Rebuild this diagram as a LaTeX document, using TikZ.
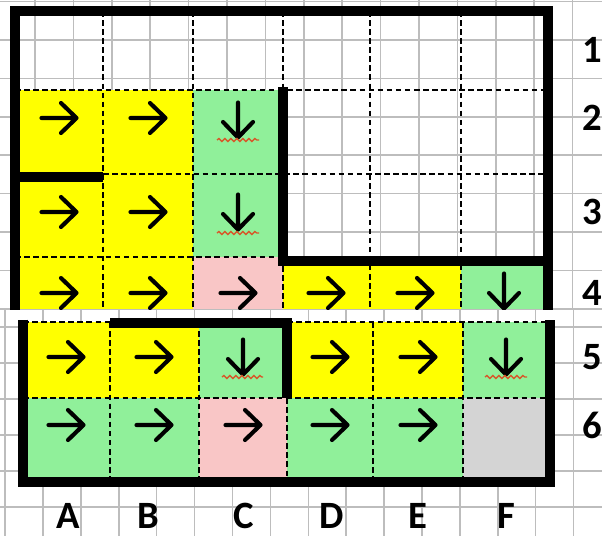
\documentclass[tikz,border=0pt]{standalone}
\usepackage{fontspec}
\setmainfont{Carlito}
\usetikzlibrary{decorations.pathmorphing}
\definecolor{cyel}{HTML}{FFFF00}
\definecolor{cgrn}{HTML}{90F09A}
\definecolor{cpnk}{HTML}{F9C6C6}
\definecolor{cgry}{HTML}{D4D4D4}
\definecolor{cgrid}{HTML}{BDBDBD}
\definecolor{csq}{HTML}{D6582A}
\newcommand\rarrow[2]{\draw[arr, shift={(#1,#2)}] (-17.5,0) -- (17.5,0) (2,-15) -- (17.5,0) -- (2,15);}
\newcommand\darrow[2]{\draw[arr, shift={(#1,#2)}] (0,-17.5) -- (0,17.5) (-15,2) -- (0,17.5) -- (15,2);}
\newcommand\squig[3]{\draw[squigln] (#1,#3) -- (#2,#3);}
\begin{document}
\begin{tikzpicture}[x=0.75pt,y=-0.75pt,
  gridln/.style={draw=cgrid, line width=1.1pt},
  dashln/.style={draw=black, line width=1.3pt, dash pattern=on 4.2pt off 2.6pt},
  bord/.style={draw=black, line width=7pt},
  arr/.style={draw=black, line width=3.1pt, line cap=round, line join=round},
  squigln/.style={draw=csq, line width=1pt, decorate, decoration={snake, segment length=4.5pt, amplitude=1.1pt}},
  lbl/.style={font=\fontsize{29}{29}\selectfont\bfseries, inner sep=0pt, anchor=center}
]
\useasboundingbox (0,0) rectangle (602,536);
\fill[white] (0,0) rectangle (602,536);
% ---------- top screenshot ----------
\begin{scope}
\clip (0,0) rectangle (602,309);
\foreach \k in {0,...,15} \draw[gridln] ({-3.4+38.4*\k},0) -- ++(0,309);
\foreach \k in {0,...,8} \draw[gridln] (0,{1.6+38.4*\k}) -- ++(602,0);
% cells
\fill[cyel] (15,90) rectangle (103,174);
\fill[cyel] (103,90) rectangle (193,174);
\fill[cgrn] (193,90) rectangle (283,174);
\fill[cyel] (15,174) rectangle (103,257);
\fill[cyel] (103,174) rectangle (193,257);
\fill[cgrn] (193,174) rectangle (283,257);
\fill[cyel] (15,257) rectangle (103,309);
\fill[cyel] (103,257) rectangle (193,309);
\fill[cpnk] (193,257) rectangle (283,309);
\fill[cyel] (283,257) rectangle (370,309);
\fill[cyel] (370,257) rectangle (461,309);
\fill[cgrn] (461,257) rectangle (548,309);
% dashed cell edges
\draw[dashln] (15,90) -- (548,90);
\draw[dashln] (103,174) -- (548,174);
\draw[dashln] (15,257) -- (283,257);
\draw[dashln] (103,11) -- (103,309);
\draw[dashln] (193,11) -- (193,309);
\draw[dashln] (283,11) -- (283,90);
\draw[dashln] (283,257) -- (283,309);
\draw[dashln] (370,11) -- (370,309);
\draw[dashln] (461,11) -- (461,309);
% thick borders
\draw[bord] (15,320) -- (15,11) -- (548,11) -- (548,320);
\draw[bord] (15,177) -- (103,177);
\draw[bord] (283,87) -- (283,261) -- (548,261);
% arrows
\rarrow{59}{118} \rarrow{148}{118} \darrow{238}{120}
\rarrow{59}{212} \rarrow{148}{212} \darrow{238}{212}
\rarrow{59}{293} \rarrow{148}{293} \rarrow{238}{293}
\rarrow{326}{293} \rarrow{415}{293} \darrow{504}{291}
\squig{217}{259}{140}
\squig{217}{259}{233}
\end{scope}
% ---------- bottom screenshot ----------
\begin{scope}
\clip (0,309) rectangle (602,536);
\foreach \k in {0,...,15} \draw[gridln] ({5.1+37.9*\k},309) -- ++(0,227);
\foreach \k in {0,...,7} \draw[gridln] (0,{291+36*\k}) -- ++(602,0);
% cells
\fill[cyel] (23,322) rectangle (110,398);
\fill[cyel] (110,322) rectangle (199,398);
\fill[cgrn] (199,322) rectangle (287,398);
\fill[cyel] (287,322) rectangle (373,398);
\fill[cyel] (373,322) rectangle (463,398);
\fill[cgrn] (463,322) rectangle (550,398);
\fill[cgrn] (23,398) rectangle (110,482);
\fill[cgrn] (110,398) rectangle (199,482);
\fill[cpnk] (199,398) rectangle (287,482);
\fill[cgrn] (287,398) rectangle (373,482);
\fill[cgrn] (373,398) rectangle (463,482);
\fill[cgry] (463,398) rectangle (550,482);
% dashed cell edges
\draw[dashln] (23,322) -- (110,322);
\draw[dashln] (287,322) -- (550,322);
\draw[dashln] (23,398) -- (550,398);
\draw[dashln] (110,322) -- (110,482);
\draw[dashln] (199,322) -- (199,482);
\draw[dashln] (287,398) -- (287,482);
\draw[dashln] (373,322) -- (373,482);
\draw[dashln] (463,322) -- (463,482);
% thick borders
\draw[bord] (23,319.5) -- (23,482) -- (550,482) -- (550,319.5);
\draw[bord] (110,323) -- (287,323) -- (287,398);
% arrows
\rarrow{66}{357} \rarrow{154}{357} \darrow{243}{357}
\rarrow{330}{357} \rarrow{418}{357} \darrow{506}{357}
\rarrow{66}{425} \rarrow{154}{425} \rarrow{243}{425}
\rarrow{330}{425} \rarrow{418}{425}
\squig{222}{263}{377}
\squig{485}{527}{377}
\end{scope}
% ---------- row and column labels ----------
\node[lbl] (r1) at (592,50) {1};
\node[lbl] (r2) at (592,118) {2};
\node[lbl] (r3) at (592,212) {3};
\node[lbl] (r4) at (592,293) {4};
\node[lbl] (r5) at (592,357) {5};
\node[lbl] (r6) at (592,425) {6};
\node[lbl] (cA) at (68,516) {A};
\node[lbl] (cB) at (148,516) {B};
\node[lbl] (cC) at (244,516) {C};
\node[lbl] (cD) at (332,516) {D};
\node[lbl] (cE) at (418,516) {E};
\node[lbl] (cF) at (506,516) {F};
\end{tikzpicture}
\end{document}
